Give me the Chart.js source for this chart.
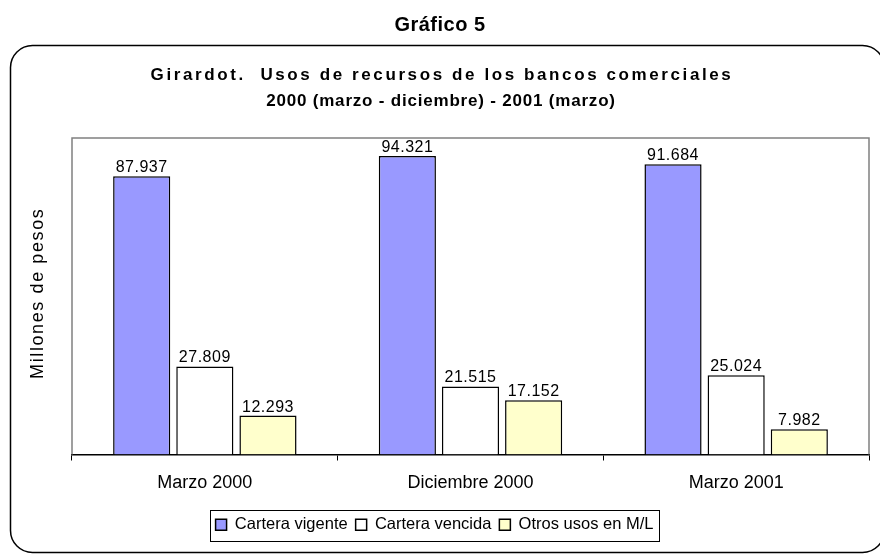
<!DOCTYPE html>
<html>
<head>
<meta charset="utf-8">
<script src="https://cdn.jsdelivr.net/npm/chart.js@4/dist/chart.umd.min.js"></script>
<style>
  html, body { margin: 0; padding: 0; background: #fff; }
  #wrap { width: 880px; height: 557px; }
</style>
</head>
<body>
<div id="wrap"><canvas id="usosChart" width="880" height="557"></canvas></div>
<script>
// data
var categories = ['Marzo 2000', 'Diciembre 2000', 'Marzo 2001'];
var carteraVigente = [87937, 94321, 91684];
var carteraVencida = [27809, 21515, 25024];
var otrosUsos = [12293, 17152, 7982];
var seriesNames = ['Cartera vigente', 'Cartera vencida', 'Otros usos en M/L'];
var yMax = 100000;
var yTitle = 'Millones de pesos';

var FONT = 'Arial, "Liberation Sans", sans-serif';

function fmt(v) {
    return String(v).replace(/\B(?=(\d{3})+(?!\d))/g, '.');
}

// frame, outer title, chart title, plot border, value labels, legend box
var framePlugin = {
    id: 'frame',
    beforeDraw: function (chart) {
        var c = chart.ctx;
        c.save();
        c.fillStyle = '#fff';
        c.fillRect(0, 0, chart.width, chart.height);

        c.fillStyle = '#000';
        c.textAlign = 'center';
        c.textBaseline = 'middle';
        c.font = 'bold 20px ' + FONT;
        c.letterSpacing = '0.5px';
        c.fillText('Gráfico 5', 440, 25);

        // rounded border
        c.beginPath();
        c.lineWidth = 1.5;
        c.strokeStyle = '#000';
        c.roundRect(10.5, 45.5, 874, 507, 22);
        c.stroke();

        c.font = 'bold 17px ' + FONT;
        c.letterSpacing = '2.6px';
        c.fillText('Girardot.  Usos de recursos de los bancos comerciales', 442, 75);
        c.letterSpacing = '0.8px';
        c.fillText('2000 (marzo - diciembre) - 2001 (marzo)', 441, 101);

        // y axis title
        var a = chart.chartArea;
        c.translate(38, (a.top + a.bottom) / 2 - 3);
        c.rotate(-Math.PI / 2);
        c.font = '18px ' + FONT;
        c.letterSpacing = '1.6px';
        c.fillText(yTitle, 0, 0);
        c.restore();
    },
    beforeDatasetsDraw: function (chart) {
        var a = chart.chartArea;
        var c = chart.ctx;
        c.save();
        c.strokeStyle = '#808080';
        c.lineWidth = 1.5;
        c.beginPath();
        c.moveTo(a.left, a.bottom);
        c.lineTo(a.left, a.top);
        c.lineTo(a.right, a.top);
        c.lineTo(a.right, a.bottom);
        c.stroke();
        c.restore();
    },
    afterDatasetsDraw: function (chart) {
        var c = chart.ctx;
        c.save();
        c.fillStyle = '#000';
        c.font = '16px ' + FONT;
        c.letterSpacing = '0.5px';
        c.textAlign = 'center';
        c.textBaseline = 'alphabetic';
        chart.data.datasets.forEach(function (ds, i) {
            chart.getDatasetMeta(i).data.forEach(function (bar, j) {
                c.fillText(fmt(ds.data[j]), bar.x, bar.y - 4);
            });
        });
        c.restore();
    },
    afterDraw: function (chart) {
        var boxes = chart.legend.legendHitBoxes;
        if (!boxes || !boxes.length) return;
        var first = boxes[0], last = boxes[boxes.length - 1];
        var l = Math.round(first.left - 6) + 0.5;
        var r = Math.round(last.left + last.width + 6) + 0.5;
        var t = Math.round(chart.legend.top + 1) + 0.5;
        var b = Math.round(chart.legend.bottom - 2) + 0.5;
        var c = chart.ctx;
        c.save();
        c.strokeStyle = '#000';
        c.lineWidth = 1;
        c.strokeRect(l, t, r - l, b - t);
        c.restore();
    }
};

var ctx = document.getElementById('usosChart').getContext('2d');
var usosChart = new Chart(ctx, {
    type: 'bar',
    data: {
        labels: categories,
        datasets: [{
            label: seriesNames[0],
            data: carteraVigente,
            backgroundColor: '#9999FF',
            borderColor: '#000',
            borderWidth: 1.5
        }, {
            label: seriesNames[1],
            data: carteraVencida,
            backgroundColor: '#FFFFFF',
            borderColor: '#000',
            borderWidth: 1.5
        }, {
            label: seriesNames[2],
            data: otrosUsos,
            backgroundColor: '#FFFFCC',
            borderColor: '#000',
            borderWidth: 1.5
        }]
    },
    options: {
        responsive: false,
        animation: false,
        categoryPercentage: 0.713,
        barPercentage: 0.905,
        layout: {
            padding: { top: 138, right: 11, bottom: 14, left: 0 }
        },
        plugins: {
            title: { display: false },
            tooltip: { enabled: false },
            legend: {
                position: 'bottom',
                labels: {
                    color: '#000',
                    font: { family: FONT, size: 16.5 },
                    boxWidth: 11,
                    boxHeight: 11,
                    padding: 8
                }
            }
        },
        scales: {
            x: {
                offset: true,
                grid: {
                    offset: true,
                    display: true,
                    drawOnChartArea: false,
                    drawTicks: true,
                    tickLength: 6,
                    color: '#000'
                },
                border: { display: true, color: '#000', width: 1.5 },
                ticks: {
                    color: '#000',
                    font: { family: FONT, size: 18 },
                    padding: 12,
                    maxRotation: 0
                },
                afterFit: function (scale) { scale.height = 54; }
            },
            y: {
                min: 0,
                max: yMax,
                grid: { display: false },
                border: { display: false },
                ticks: { display: false },
                title: { display: false },
                afterFit: function (scale) { scale.width = 72; }
            }
        }
    },
    plugins: [framePlugin]
});
</script>
</body>
</html>
